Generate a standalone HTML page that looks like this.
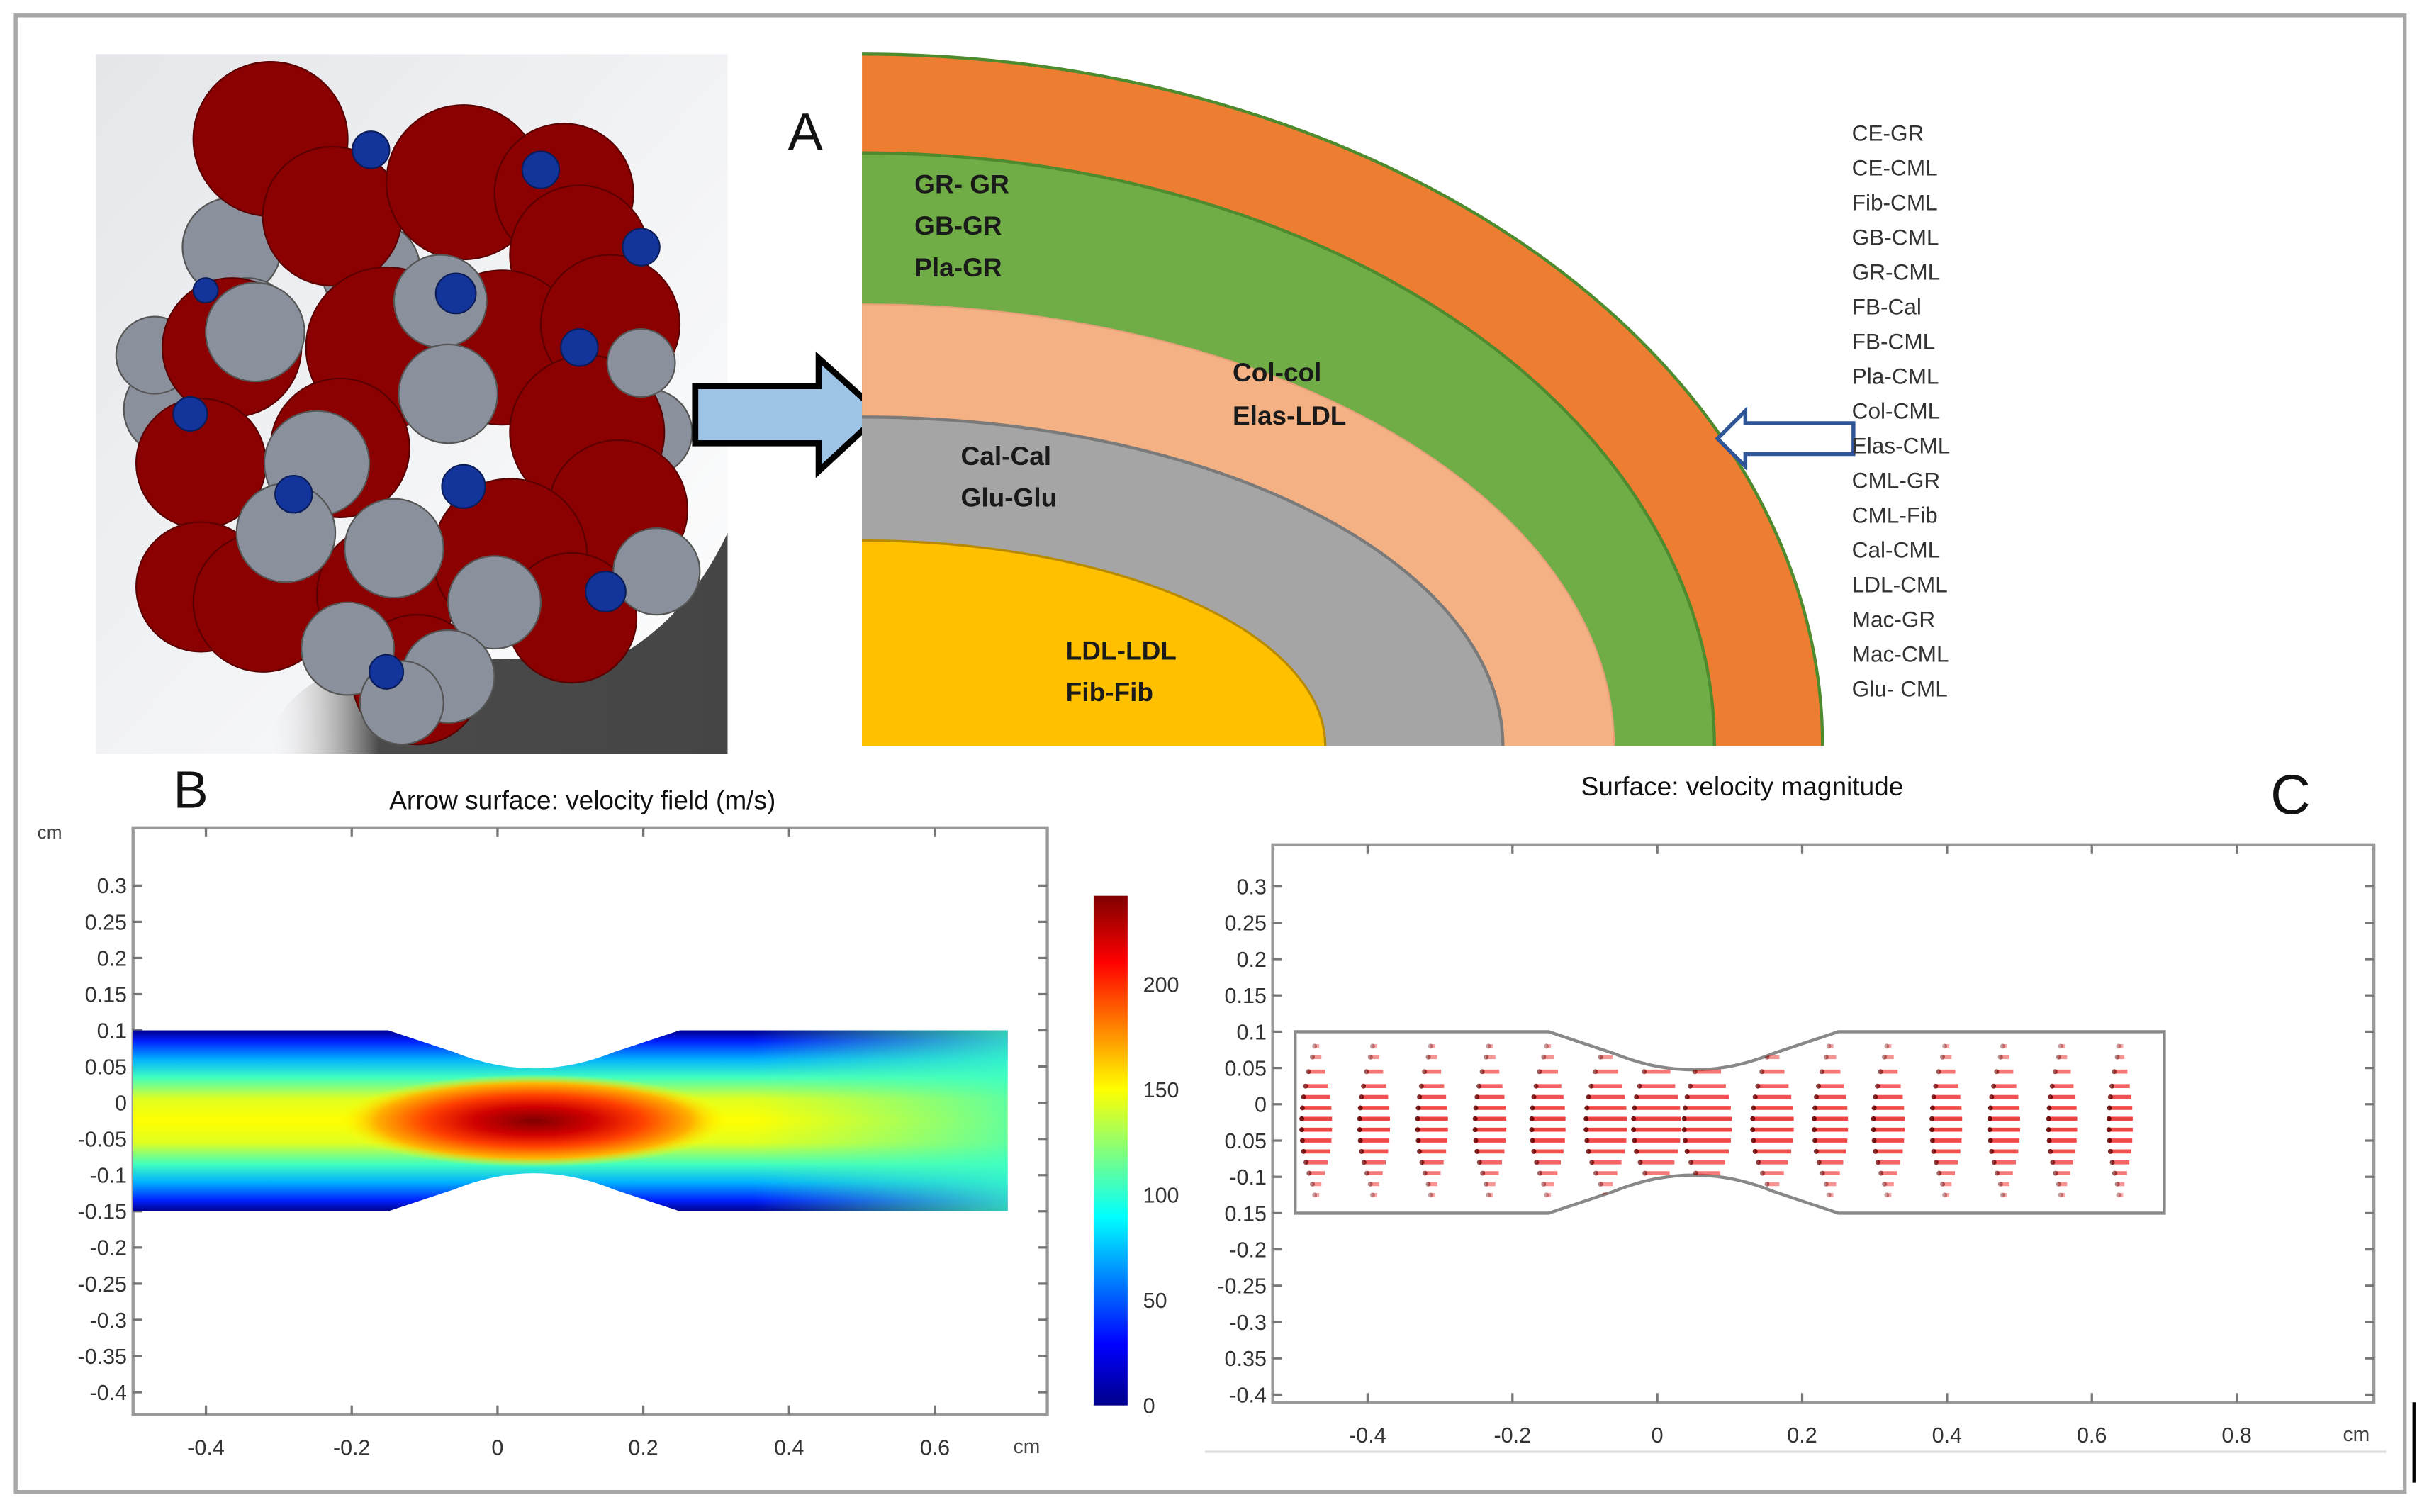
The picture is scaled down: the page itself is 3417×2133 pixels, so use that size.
<!DOCTYPE html>
<html><head><meta charset="utf-8"><style>
html,body{margin:0;padding:0;background:#fff;}
svg{display:block;font-family:"Liberation Sans",sans-serif;}
</style></head><body>
<svg id="root" width="3417" height="2133" viewBox="0 0 1568 979" xmlns="http://www.w3.org/2000/svg">
<defs>
<linearGradient id="bgimg" x1="0" y1="0" x2="1" y2="1"><stop offset="0" stop-color="#e4e6ea"/><stop offset="0.6" stop-color="#f4f5f7"/><stop offset="1" stop-color="#ffffff"/></linearGradient>
<linearGradient id="shadow" x1="0" y1="0" x2="1" y2="0"><stop offset="0" stop-color="#ffffff" stop-opacity="0"/><stop offset="0.25" stop-color="#4a4a4a"/><stop offset="1" stop-color="#454545"/></linearGradient>
<linearGradient id="jetV" x1="0" y1="0" x2="0" y2="1">
<stop offset="0" stop-color="#00008a"/><stop offset="0.06" stop-color="#0020ff"/><stop offset="0.16" stop-color="#00b0ff"/><stop offset="0.26" stop-color="#40ffc0"/><stop offset="0.38" stop-color="#e0ff20"/><stop offset="0.5" stop-color="#ffff00"/><stop offset="0.62" stop-color="#e0ff20"/><stop offset="0.74" stop-color="#40ffc0"/><stop offset="0.84" stop-color="#00b0ff"/><stop offset="0.94" stop-color="#0020ff"/><stop offset="1" stop-color="#00008a"/>
</linearGradient>
<radialGradient id="hot" cx="0.5" cy="0.5" r="0.5">
<stop offset="0" stop-color="#800000"/><stop offset="0.3" stop-color="#d00000"/><stop offset="0.55" stop-color="#ff4000"/><stop offset="0.8" stop-color="#ffb000"/><stop offset="1" stop-color="#ffff00" stop-opacity="0"/>
</radialGradient>
<linearGradient id="rightFade" x1="0" y1="0" x2="1" y2="0"><stop offset="0" stop-color="#60ffa0" stop-opacity="0"/><stop offset="1" stop-color="#40ffc0" stop-opacity="0.8"/></linearGradient>
<linearGradient id="cbar" x1="0" y1="1" x2="0" y2="0">
<stop offset="0" stop-color="#00008a"/><stop offset="0.12" stop-color="#0000ff"/><stop offset="0.37" stop-color="#00ffff"/><stop offset="0.62" stop-color="#ffff00"/><stop offset="0.87" stop-color="#ff0000"/><stop offset="1" stop-color="#800000"/>
</linearGradient>
<clipPath id="qclip"><rect x="558" y="20" width="640" height="463"/></clipPath>
<clipPath id="imgclip"><rect x="62" y="35" width="409" height="453"/></clipPath>
</defs>

<rect x="0" y="0" width="1568" height="979" fill="#fff"/>
<rect x="10" y="10" width="1547" height="956" fill="none" stroke="#a8a8a8" stroke-width="2.5"/>

<g clip-path="url(#imgclip)" id="spheres">
<rect x="62" y="35" width="409" height="453" fill="url(#bgimg)"/>
<path d="M170 488 Q185 430 260 428 L400 425 Q445 400 471 345 L471 488 Z" fill="url(#shadow)"/>
</g>

<path d="M450 250 L530 250 L530 232 L570 268 L530 305 L530 287 L450 287 Z" fill="#9dc3e6" stroke="#000" stroke-width="4"/>
<text x="510" y="97" font-size="34" fill="#111">A</text>

<g clip-path="url(#qclip)">
<ellipse cx="558" cy="483" rx="622" ry="448" fill="#ed7d31" stroke="#4e8a2e" stroke-width="2"/>
<ellipse cx="558" cy="483" rx="552" ry="384" fill="#70ad47" stroke="#4e8a2e" stroke-width="2"/>
<ellipse cx="558" cy="483" rx="487" ry="286" fill="#f4b183" stroke="#e8a07a" stroke-width="1"/>
<ellipse cx="558" cy="483" rx="415" ry="213" fill="#a5a5a5" stroke="#7a7a7a" stroke-width="2"/>
<ellipse cx="558" cy="483" rx="300" ry="133" fill="#ffc000" stroke="#b88a00" stroke-width="1.5"/>
</g>
<g font-weight="bold" font-size="17" fill="#1a1a1a">
<text x="592" y="125">GR- GR</text><text x="592" y="152">GB-GR</text><text x="592" y="179">Pla-GR</text>
<text x="798" y="247">Col-col</text><text x="798" y="275">Elas-LDL</text>
<text x="622" y="301">Cal-Cal</text><text x="622" y="328">Glu-Glu</text>
<text x="690" y="427">LDL-LDL</text><text x="690" y="454">Fib-Fib</text>
</g>
<path d="M1200 274 L1130 274 L1130 266 L1112 284 L1130 302 L1130 294 L1200 294 Z" fill="#fff" stroke="#2f5597" stroke-width="2.5"/>
<g id="intlist" font-size="14.5" fill="#333"></g>

<text x="112" y="523" font-size="34" fill="#111">B</text>
<text x="377" y="524" font-size="17" text-anchor="middle" fill="#111">Arrow surface: velocity field (m/s)</text>
<g id="plotB"></g>
<rect x="708" y="580" width="22" height="330" fill="url(#cbar)"/>
<g id="cbarTicks" font-size="14" fill="#333"></g>

<text x="1128" y="515" font-size="17" text-anchor="middle" fill="#111">Surface: velocity magnitude</text>
<text x="1470" y="527" font-size="36" fill="#111">C</text>
<g id="plotC"></g>
<line x1="780" y1="940" x2="1545" y2="940" stroke="#ddd" stroke-width="1.5"/>
<line x1="1563" y1="908" x2="1563" y2="960" stroke="#000" stroke-width="2"/>
</svg>
<script>
var NS="http://www.w3.org/2000/svg";
function mk(tag,attrs,parent){var e=document.createElementNS(NS,tag);for(var k in attrs)e.setAttribute(k,attrs[k]);parent.appendChild(e);return e;}

var interactions=["CE-GR","CE-CML","Fib-CML","GB-CML","GR-CML","FB-Cal","FB-CML","Pla-CML","Col-CML","Elas-CML","CML-GR","CML-Fib","Cal-CML","LDL-CML","Mac-GR","Mac-CML","Glu- CML"];
var xTicksB=[-0.4,-0.2,0,0.2,0.4,0.6];
var yTicks=[0.3,0.25,0.2,0.15,0.1,0.05,0,-0.05,-0.1,-0.15,-0.2,-0.25,-0.3,-0.35,-0.4];
var yTickLabelsC=["0.3","0.25","0.2","0.15","0.1","0.05","0","0.05","-0.1","0.15","-0.2","-0.25","-0.3","0.35","-0.4"];
var xTicksC=[-0.4,-0.2,0,0.2,0.4,0.6,0.8];
var cbarTicks=[0,50,100,150,200];
var cbarMax=242;
var arrowCols=[-0.47,-0.39,-0.31,-0.23,-0.15,-0.07,0.0,0.07,0.16,0.24,0.32,0.40,0.48,0.56,0.64];
var colSpeed=[0.7,0.7,0.7,0.72,0.78,0.95,1.1,1.1,0.95,0.78,0.72,0.7,0.7,0.66,0.55];
var arrowRows=[0.08,0.065,0.045,0.025,0.01,-0.005,-0.02,-0.035,-0.05,-0.065,-0.08,-0.095,-0.11,-0.125];
var rowSpeed=[0.12,0.3,0.55,0.75,0.88,0.96,1.0,1.0,0.96,0.88,0.72,0.52,0.3,0.12];

var L=document.getElementById('intlist');
interactions.forEach(function(s,i){var t=mk('text',{x:1199,y:91+i*22.5},L);t.textContent=s;

});

var S=document.getElementById('spheres');
var grays1=[[150,160,32],[240,175,32],[110,265,30],[390,250,30],[420,280,28],[100,230,25],[160,210,30],[410,360,30]];
var reds=[[175,90,50],[215,140,45],[300,118,50],[365,125,45],[375,165,45],[150,225,45],[250,225,52],[325,225,50],[395,210,45],[380,280,50],[130,300,42],[220,290,45],[400,330,45],[130,380,42],[170,390,45],[250,385,45],[330,360,50],[270,440,42],[370,400,42]];
var grays2=[[165,215,32],[285,195,30],[205,300,34],[290,255,32],[185,345,32],[255,355,32],[320,390,30],[225,420,30],[290,438,30],[425,370,28],[415,235,22],[260,455,27]];
var blues=[[240,97,12],[350,110,12],[415,160,12],[295,190,13],[375,225,12],[123,268,11],[300,315,14],[190,320,12],[392,383,13],[250,435,11],[133,188,8]];
function circ(arr,fill,stroke,name){arr.forEach(function(c){var e=mk('circle',{cx:c[0],cy:c[1],r:c[2],fill:fill,stroke:stroke,'stroke-width':1},S);

});}
circ(grays1,'#8a909c','#555','sphere-gray');circ(reds,'#8b0000','#5a0000','sphere-red');circ(grays2,'#8a909c','#555','sphere-gray');circ(blues,'#13349a','#0a1d5a','sphere-blue');

function axes(g,x0,y0,x1,y1,sx,sy,xt,yt,ylabels){
  mk('rect',{x:x0,y:y0,width:x1-x0,height:y1-y0,fill:'#fff',stroke:'#999','stroke-width':2},g);
  xt.forEach(function(v){var x=sx(v);mk('line',{x1:x,y1:y1,x2:x,y2:y1-6,stroke:'#777','stroke-width':1.5},g);mk('line',{x1:x,y1:y0,x2:x,y2:y0+6,stroke:'#777','stroke-width':1.5},g);
    var t=mk('text',{x:x,y:y1+26,'font-size':14,'text-anchor':'middle',fill:'#333'},g);t.textContent=(v<0?'-':'')+Math.abs(v);
    
    });
  yt.forEach(function(v,i){var y=sy(v);mk('line',{x1:x0,y1:y,x2:x0+6,y2:y,stroke:'#777','stroke-width':1.5},g);mk('line',{x1:x1,y1:y,x2:x1-6,y2:y,stroke:'#777','stroke-width':1.5},g);
    var t=mk('text',{x:x0-4,y:y+5,'font-size':14,'text-anchor':'end',fill:'#333'},g);t.textContent=ylabels[i];
    
    });
}
function P(sx,sy,x,y){return sx(x)+' '+sy(y);}
function channelPath(sx,sy){
  return 'M'+P(sx,sy,-0.5,0.1)+' L'+P(sx,sy,-0.15,0.1)+' L'+P(sx,sy,-0.06,0.07)+' Q'+P(sx,sy,0.05,0.025)+' '+P(sx,sy,0.16,0.07)+' L'+P(sx,sy,0.25,0.1)+
  ' L'+P(sx,sy,0.7,0.1)+' L'+P(sx,sy,0.7,-0.15)+' L'+P(sx,sy,0.25,-0.15)+' L'+P(sx,sy,0.16,-0.12)+' Q'+P(sx,sy,0.05,-0.075)+' '+P(sx,sy,-0.06,-0.12)+' L'+P(sx,sy,-0.15,-0.15)+' L'+P(sx,sy,-0.5,-0.15)+' Z';
}
var B=document.getElementById('plotB');
function sxB(v){return 322+v*472;} function syB(v){return 714-v*468.6;}
axes(B,86,536,678,916,sxB,syB,xTicksB,yTicks,yTicks.map(function(v){return (v<0?'-':'')+Math.abs(v);}));
mk('clipPath',{id:'chB'},B).appendChild((function(){var p=document.createElementNS(NS,'path');p.setAttribute('d',channelPath(sxB,syB));return p;})());
var hb=mk('g',{'clip-path':'url(#chB)'},B);
mk('rect',{x:sxB(-0.5),y:syB(0.1),width:sxB(0.7)-sxB(-0.5),height:syB(-0.15)-syB(0.1),fill:'url(#jetV)'},hb);
mk('rect',{x:sxB(0.35),y:syB(0.1),width:sxB(0.7)-sxB(0.35),height:syB(-0.15)-syB(0.1),fill:'url(#rightFade)'},hb);
var hot=mk('ellipse',{cx:sxB(0.05),cy:syB(-0.025),rx:(sxB(0.32)-sxB(-0.22))/2,ry:30,fill:'url(#hot)'},hb);


var tcm=mk('text',{x:24,y:543,'font-size':12,fill:'#444'},B);tcm.textContent='cm';
var tcm2=mk('text',{x:656,y:941,'font-size':13,fill:'#444'},B);tcm2.textContent='cm';
var CT=document.getElementById('cbarTicks');
cbarTicks.forEach(function(v){var y=910-v/cbarMax*330;var t=mk('text',{x:740,y:y+5},CT);t.textContent=v;

});

var C=document.getElementById('plotC');
function sxC(v){return 1073+v*469;} function syC(v){return 715-v*470;}
axes(C,824,547,1537,908,sxC,syC,xTicksC,yTicks,yTickLabelsC);
var tcm3=mk('text',{x:1517,y:933,'font-size':13,fill:'#444'},C);tcm3.textContent='cm';
var ch=mk('path',{d:channelPath(sxC,syC),fill:'#fff',stroke:'#888','stroke-width':2},C);


mk('clipPath',{id:'chC'},C).appendChild((function(){var p=document.createElementNS(NS,'path');p.setAttribute('d',channelPath(sxC,syC));return p;})());
var ag=mk('g',{'clip-path':'url(#chC)'},C);
arrowCols.forEach(function(cx,i){
  rowSpeed.forEach(function(rs,j){
    var len=28*colSpeed[i]*rs; if(len<3)len=3;
    var x=sxC(cx), y=syC(arrowRows[j]);
    var l=mk('line',{x1:x-len/2,y1:y,x2:x+len/2,y2:y,stroke:'#f03030','stroke-width':2.6,'stroke-opacity':0.35+0.55*rs},ag);
    
    
    mk('circle',{cx:x-len/2,cy:y,r:1.6,fill:'#600','fill-opacity':0.3+0.6*rs},ag);
  });
});
</script>
</body></html>
